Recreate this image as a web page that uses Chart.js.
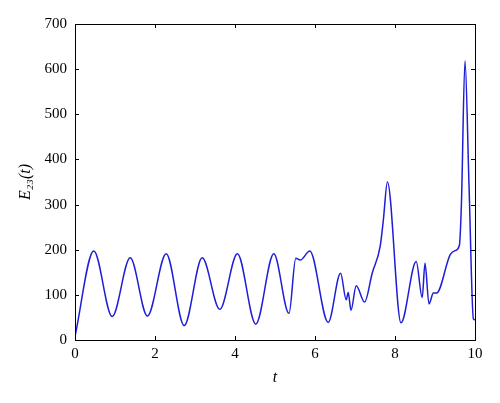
<!DOCTYPE html>
<html>
<head>
<meta charset="utf-8">
<script src="https://cdn.jsdelivr.net/npm/chart.js@4"></script>
<style>
  html, body { margin: 0; padding: 0; background: #fff; }
  #wrap { width: 500px; height: 403px; }
</style>
</head>
<body>
<div id="wrap"><canvas id="c"></canvas></div>
<script>
// time values (t) and E23(t)
const tValues = [0, 0.47, 0.93, 1.38, 1.81, 2.28, 2.73, 3.18, 3.62, 4.06, 4.52, 4.97,
  5.35, 5.52, 5.63, 5.87, 6.33, 6.64, 6.78, 6.83, 6.90, 7.03, 7.24, 7.43, 7.63, 7.71, 7.81,
  8.15, 8.53, 8.68, 8.75, 8.85, 8.96, 9.04, 9.38, 9.50, 9.61, 9.66, 9.75, 9.85, 9.96, 10];
const eValues = [8, 197, 52, 182, 53, 191, 32, 182, 68, 191, 35, 191,
  59, 181, 177, 197, 39, 148, 89, 105, 66, 120, 84, 148, 208, 267, 350,
  38, 174, 94, 170, 80, 104, 104, 189, 198, 210, 300, 618, 344, 47, 45];

const xTicks = [0, 2, 4, 6, 8, 10];
const yTicks = [0, 100, 200, 300, 400, 500, 600, 700];

const points = tValues.map((t, i) => ({ x: t, y: eValues[i] }));

// frame with inward tick marks on all four sides
const framePlugin = {
  id: 'frame',
  afterDraw(chart) {
    const { ctx, chartArea: a, scales } = chart;
    ctx.save();
    ctx.strokeStyle = '#000';
    ctx.lineWidth = 1;
    ctx.strokeRect(a.left + 0.5, a.top + 0.5, a.right - a.left, a.bottom - a.top);
    ctx.beginPath();
    xTicks.forEach(v => {
      const px = Math.round(scales.x.getPixelForValue(v)) + 0.5;
      ctx.moveTo(px, a.bottom); ctx.lineTo(px, a.bottom - 4);
      ctx.moveTo(px, a.top); ctx.lineTo(px, a.top + 4);
    });
    yTicks.forEach(v => {
      const py = Math.round(scales.y.getPixelForValue(v)) + 0.5;
      ctx.moveTo(a.left, py); ctx.lineTo(a.left + 4, py);
      ctx.moveTo(a.right, py); ctx.lineTo(a.right - 4, py);
    });
    ctx.stroke();
    ctx.restore();
  }
};

const tickFont = { family: '"Liberation Serif", "DejaVu Serif", serif', size: 15 };

new Chart(document.getElementById('c'), {
  type: 'line',
  data: {
    datasets: [{
      data: points,
      borderColor: 'rgb(30, 30, 215)',
      borderWidth: 1.5,
      pointRadius: 0,
      fill: false,
      cubicInterpolationMode: 'monotone'
    }]
  },
  options: {
    responsive: true,
    maintainAspectRatio: false,
    animation: false,
    layout: { autoPadding: false, padding: { left: 0, right: 25, top: 24, bottom: 0 } },
    plugins: { legend: { display: false }, tooltip: { enabled: false } },
    scales: {
      x: {
        type: 'linear',
        min: 0, max: 10,
        afterFit(s) { s.height = 63; },
        afterBuildTicks(s) { s.ticks = xTicks.map(v => ({ value: v })); },
        grid: { display: false, drawTicks: false },
        border: { display: false },
        ticks: { color: '#000', font: tickFont, padding: 5, maxRotation: 0 },
        title: {
          display: true, text: 't', color: '#000',
          font: { family: '"Liberation Serif", serif', size: 16, style: 'italic', lineHeight: 1 },
          padding: { top: 0, bottom: 17 }
        }
      },
      y: {
        min: 0, max: 700,
        afterFit(s) { s.width = 75; },
        afterBuildTicks(s) { s.ticks = yTicks.map(v => ({ value: v })); },
        grid: { display: false, drawTicks: false },
        border: { display: false },
        ticks: { color: '#000', font: tickFont, padding: 8 },
        title: {
          display: true, text: 'E₂₃(t)', color: '#000',
          font: { family: '"Liberation Serif", "DejaVu Serif", serif', size: 16, style: 'italic', lineHeight: 1 },
          padding: { top: 18, bottom: 0 }
        }
      }
    }
  },
  plugins: [framePlugin]
});
</script>
</body>
</html>
